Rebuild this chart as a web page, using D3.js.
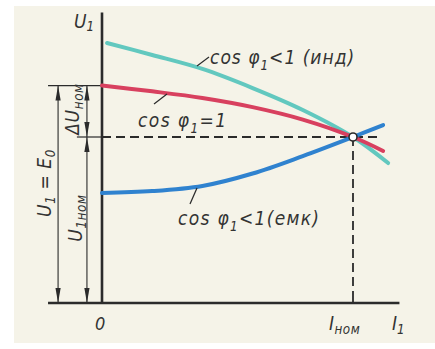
<!DOCTYPE html>
<html>
<head>
<meta charset="utf-8">
<script src="https://cdn.jsdelivr.net/npm/d3@7"></script>
<style>
  body { margin: 0; background: #fff; }
  text { font-family: "DejaVu Sans Condensed", "DejaVu Sans", sans-serif; font-stretch: condensed; font-style: italic; fill: #333; }
</style>
</head>
<body>
<div id="vis"></div>
<script>
// Data (I in units of I_nom, U in units of U_nom)
var iInd  = [0.02, 0.2, 0.4, 0.6, 0.8, 1.0, 1.14];
var uInd  = [1.566, 1.494, 1.41, 1.295, 1.163, 1.0, 0.843];
var iOne  = [0.0, 0.2, 0.4, 0.6, 0.8, 1.0, 1.12];
var uOne  = [1.31, 1.275, 1.235, 1.18, 1.105, 1.0, 0.916];
var iCap  = [0.0, 0.2, 0.4, 0.6, 0.8, 1.0, 1.12];
var uCap  = [0.663, 0.674, 0.705, 0.78, 0.885, 1.0, 1.072];
var E0 = 1.31, uNom = 1.0, iNom = 1.0;
var iMax = 1.185, uMax = 1.75, iLeft = -0.215;

var width = 435, height = 349;

var svg = d3.select("#vis")
			.append("svg")
			.attr("width", width)
			.attr("height", height);

// paper
svg.append("rect")
   .attr("x", 14).attr("y", 6)
   .attr("width", width - 14).attr("height", 337)
   .attr("fill", "#f5f3e8");

var x = d3.scaleLinear().domain([0, 1]).range([102, 353]);
var y = d3.scaleLinear().domain([0, 1]).range([303, 137]);

var ink = "#2b2b2b";

function hline(x1, x2, yy, w) {
	svg.append("line").attr("x1", x1).attr("x2", x2).attr("y1", yy).attr("y2", yy)
	   .attr("stroke", ink).attr("stroke-width", w);
}
function vline(xx, y1, y2, w) {
	svg.append("line").attr("x1", xx).attr("x2", xx).attr("y1", y1).attr("y2", y2)
	   .attr("stroke", ink).attr("stroke-width", w);
}
function arrow(xx, yy, dir) {
	// dir = 1 tip points up, -1 tip points down
	var L = 15, W = 2.6;
	var p = "M" + xx + "," + yy + "L" + (xx - W) + "," + (yy + dir * L) +
			"L" + (xx + W) + "," + (yy + dir * L) + "Z";
	svg.append("path").attr("d", p).attr("fill", ink);
}

// dimension lines
hline(x(iLeft), x(0), y(E0), 1.2);
hline(x(-0.1), x(0), y(uNom), 1.2);

var xa = x(-0.175), xb = x(-0.06);
vline(xa, y(E0), y(0), 1.1);
arrow(xa, y(E0), 1);
arrow(xa, y(0), -1);
vline(xb, y(E0), y(0), 1.1);
arrow(xb, y(E0), 1);
arrow(xb, y(uNom), -1);
arrow(xb, y(uNom), 1);
arrow(xb, y(0), -1);

// dashed guides
svg.append("line")
   .attr("x1", x(0)).attr("x2", x(1.1))
   .attr("y1", y(uNom)).attr("y2", y(uNom))
   .attr("stroke", ink).attr("stroke-width", 1.8)
   .attr("stroke-dasharray", "9,5");
svg.append("line")
   .attr("x1", x(iNom)).attr("x2", x(iNom))
   .attr("y1", y(uNom)).attr("y2", y(0) - 8)
   .attr("stroke", ink).attr("stroke-width", 1.8)
   .attr("stroke-dasharray", "9,5");
vline(x(iNom), y(0) - 8, y(0), 1.8);

// axes
vline(x(0), y(uMax), y(0) + 1, 2.6);
hline(x(iLeft), x(iMax), y(0), 2.4);

// curves
var line = d3.line()
			 .x(function(d) { return x(d[0]); })
			 .y(function(d) { return y(d[1]); })
			 .curve(d3.curveCatmullRom.alpha(0.5));

var curves = [
	{i: iInd, u: uInd, c: "#62c8bf"},
	{i: iOne, u: uOne, c: "#d8405f"},
	{i: iCap, u: uCap, c: "#2f82cf"}
];
curves.forEach(function(s) {
	svg.append("path")
	   .datum(d3.zip(s.i, s.u))
	   .attr("d", line)
	   .attr("fill", "none")
	   .attr("stroke", s.c)
	   .attr("stroke-width", 4)
	   .attr("stroke-linecap", "round");
});

// nominal point
svg.append("circle")
   .attr("cx", x(iNom)).attr("cy", y(uNom)).attr("r", 4)
   .attr("fill", "#fff").attr("stroke", ink).attr("stroke-width", 1.6);

// leader lines
function leader(x1, y1, x2, y2) {
	svg.append("line").attr("x1", x1).attr("y1", y1).attr("x2", x2).attr("y2", y2)
	   .attr("stroke", ink).attr("stroke-width", 1.2);
}
leader(197, 66, 209, 57);
leader(154, 104, 167, 94);
leader(190, 204, 197, 188);

// labels: parts = [text, dy, small]
function label(xx, yy, parts, size, ls) {
	var t = svg.append("text").attr("x", xx).attr("y", yy)
			   .style("font-size", size + "px")
			   .style("letter-spacing", (ls || 0) + "px");
	parts.forEach(function(p) {
		var ts = t.append("tspan").text(p[0]);
		if (p[1]) ts.attr("dy", p[1]);
		if (p[2]) ts.style("font-size", (size * 0.7) + "px");
	});
	return t;
}

label(74, 28, [["U"], ["1", 3, 1]], 19);
label(210, 64, [["cos φ"], ["1", 6, 1], ["<1 (инд)", -6]], 19, 1.0);
label(138, 127, [["cos φ"], ["1", 6, 1], ["=1", -6]], 19, 1.4);
label(178, 225, [["cos φ"], ["1", 6, 1], ["<1(емк)", -6]], 19, 1.3);
label(95, 330, [["0"]], 18);
label(329, 330, [["I"], ["ном", 4, 1]], 19, 0.5);
label(392, 330, [["I"], ["1", 4, 1]], 19);

function vlabel(xx, yy, parts, size) {
	var t = svg.append("text")
			   .attr("transform", "translate(" + xx + "," + yy + ") rotate(-90)")
			   .attr("text-anchor", "middle")
			   .style("font-size", size + "px")
			   .style("letter-spacing", "0.6px");
	parts.forEach(function(p) {
		var ts = t.append("tspan").text(p[0]);
		if (p[1]) ts.attr("dy", p[1]);
		if (p[2]) ts.style("font-size", (size * 0.7) + "px");
	});
}
vlabel(51, 183, [["U"], ["1", 4, 1], [" = E", -4], ["0", 4, 1]], 19);
vlabel(82, 218, [["U"], ["1", 4, 1], ["ном", 0, 1]], 19);
vlabel(79, 109, [["ΔU"], ["ном", 4, 1]], 19);
</script>
</body>
</html>
